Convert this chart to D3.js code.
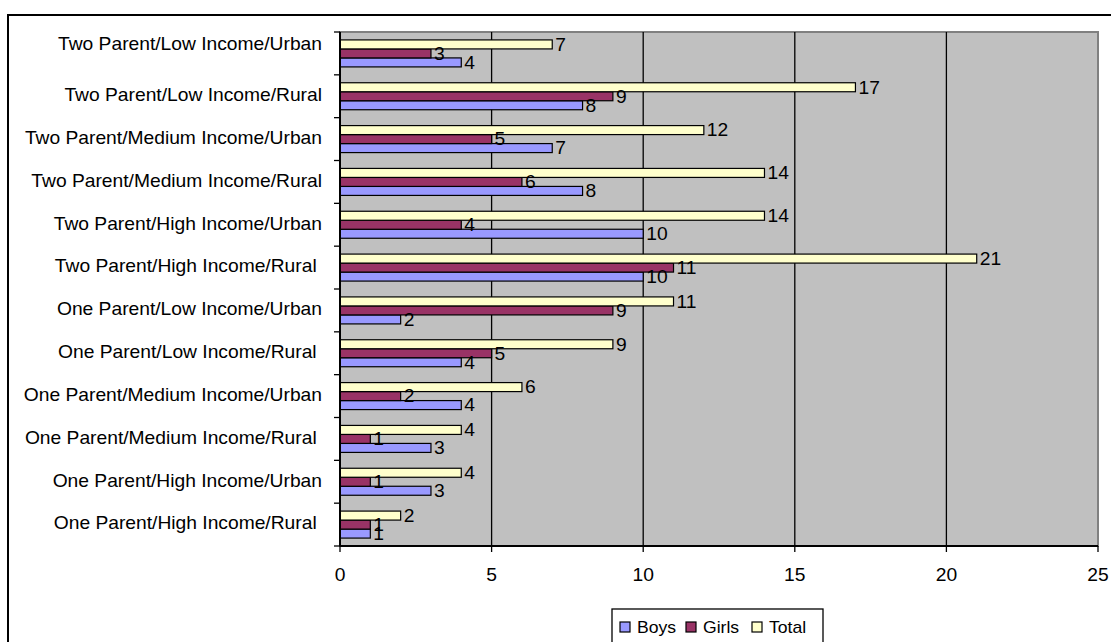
<!DOCTYPE html>
<html>
<head>
<meta charset="utf-8">
<script src="https://cdn.jsdelivr.net/npm/d3@7"></script>
<style>
  body { margin: 0; background: #fff; }
  text { font-family: "Liberation Sans", Arial, sans-serif; white-space: pre; }
</style>
</head>
<body>
<div class="graph-container"></div>
<script>
// data, top to bottom as shown
const categories = [
  "Two Parent/Low Income/Urban",
  "Two Parent/Low Income/Rural",
  "Two Parent/Medium Income/Urban",
  "Two Parent/Medium Income/Rural",
  "Two Parent/High Income/Urban",
  "Two Parent/High Income/Rural ",
  "One Parent/Low Income/Urban",
  "One Parent/Low Income/Rural ",
  "One Parent/Medium Income/Urban",
  "One Parent/Medium Income/Rural ",
  "One Parent/High Income/Urban",
  "One Parent/High Income/Rural "
];
const boys  = [4, 8, 7, 8, 10, 10, 2, 4, 4, 3, 3, 1];
const girls = [3, 9, 5, 6, 4, 11, 9, 5, 2, 1, 1, 1];
const total = [7, 17, 12, 14, 14, 21, 11, 9, 6, 4, 4, 2];
const seriesNames = ["Boys", "Girls", "Total"];
const xTicks = [0, 5, 10, 15, 20, 25];

const colors = { Boys: "#9999FF", Girls: "#993366", Total: "#FFFFCC" };
const dims = { width: 1111, height: 642 };
const plot = { left: 340, top: 32, right: 1098, bottom: 546 };
const fs = 17.5, sx = 1.1;

const svg = d3.select(".graph-container").append("svg")
  .attr("width", dims.width).attr("height", dims.height);

// outer chart border (runs off the right and bottom edges)
svg.append("rect").attr("x", 8).attr("y", 15).attr("width", 1200).attr("height", 700)
  .attr("fill", "#fff").attr("stroke", "#000").attr("stroke-width", 2);

const x = d3.scaleLinear().domain([0, 25]).range([plot.left, plot.right]);
const y = d3.scaleBand().domain(categories).range([plot.top, plot.bottom]);
const inner = d3.scaleBand().domain(["Total", "Girls", "Boys"])
  .range([0, y.bandwidth()]).paddingOuter(0.88);

// plot area
svg.append("rect").attr("x", plot.left).attr("y", plot.top)
  .attr("width", plot.right - plot.left).attr("height", plot.bottom - plot.top)
  .attr("fill", "#C0C0C0").attr("stroke", "#808080").attr("stroke-width", 2);

svg.append("g").selectAll("line").data(xTicks.slice(1, -1)).enter().append("line")
  .attr("x1", d => x(d)).attr("x2", d => x(d))
  .attr("y1", plot.top).attr("y2", plot.bottom)
  .attr("stroke", "#000").attr("stroke-width", 1.3);

let rows = categories.map((c, i) => ({ cat: c, Boys: boys[i], Girls: girls[i], Total: total[i] }));
let bars = [];
rows.forEach(r => seriesNames.forEach(s => bars.push({ cat: r.cat, s: s, v: r[s] })));

const barG = svg.append("g");
barG.selectAll("rect").data(bars).enter().append("rect")
  .attr("x", x(0))
  .attr("y", d => y(d.cat) + inner(d.s))
  .attr("width", d => x(d.v) - x(0))
  .attr("height", inner.bandwidth())
  .attr("fill", d => colors[d.s])
  .attr("stroke", "#000").attr("stroke-width", 1.2);

barG.selectAll("text").data(bars).enter().append("text")
  .attr("transform", d => `translate(${x(d.v) + 3},${y(d.cat) + inner(d.s) + inner.bandwidth() / 2}) scale(${sx},1)`)
  .attr("dy", "0.36em")
  .attr("font-size", fs)
  .text(d => d.v);

// axes
svg.append("line").attr("x1", plot.left).attr("x2", plot.left)
  .attr("y1", plot.top).attr("y2", plot.bottom).attr("stroke", "#000").attr("stroke-width", 2);
svg.append("line").attr("x1", plot.left).attr("x2", plot.right)
  .attr("y1", plot.bottom).attr("y2", plot.bottom).attr("stroke", "#000").attr("stroke-width", 2);

const yTickPos = categories.map(c => y(c)).concat([plot.bottom]);
svg.append("g").selectAll("line").data(yTickPos).enter().append("line")
  .attr("x1", plot.left - 6).attr("x2", plot.left)
  .attr("y1", d => d).attr("y2", d => d).attr("stroke", "#000").attr("stroke-width", 1.3);

svg.append("g").selectAll("line").data(xTicks).enter().append("line")
  .attr("x1", d => x(d)).attr("x2", d => x(d))
  .attr("y1", plot.bottom).attr("y2", plot.bottom + 6).attr("stroke", "#000").attr("stroke-width", 1.3);

svg.append("g").selectAll("text").data(xTicks).enter().append("text")
  .attr("transform", d => `translate(${x(d)},581) scale(${sx},1)`)
  .attr("text-anchor", "middle").attr("font-size", fs)
  .text(d => d);

// first label sits higher in the original, the rest are near centre
svg.append("g").selectAll("text").data(categories).enter().append("text")
  .attr("transform", (d, i) => `translate(322,${y(d) + y.bandwidth() / 2 - (i === 0 ? 10 : 1.5)}) scale(${sx},1)`)
  .attr("text-anchor", "end").attr("dy", "0.36em").attr("font-size", fs)
  .text(d => d);

// legend
const legend = svg.append("g");
legend.append("rect").attr("x", 612).attr("y", 609).attr("width", 211).attr("height", 50)
  .attr("fill", "#fff").attr("stroke", "#000").attr("stroke-width", 1.3);
const legX = [620, 686, 752];
seriesNames.forEach((s, i) => {
  legend.append("rect").attr("x", legX[i]).attr("y", 622).attr("width", 10).attr("height", 10)
    .attr("fill", colors[s]).attr("stroke", "#000").attr("stroke-width", 1.2);
  legend.append("text").attr("transform", `translate(${legX[i] + 17},633) scale(${sx},1)`)
    .attr("font-size", 16).text(s);
});
</script>
</body>
</html>
